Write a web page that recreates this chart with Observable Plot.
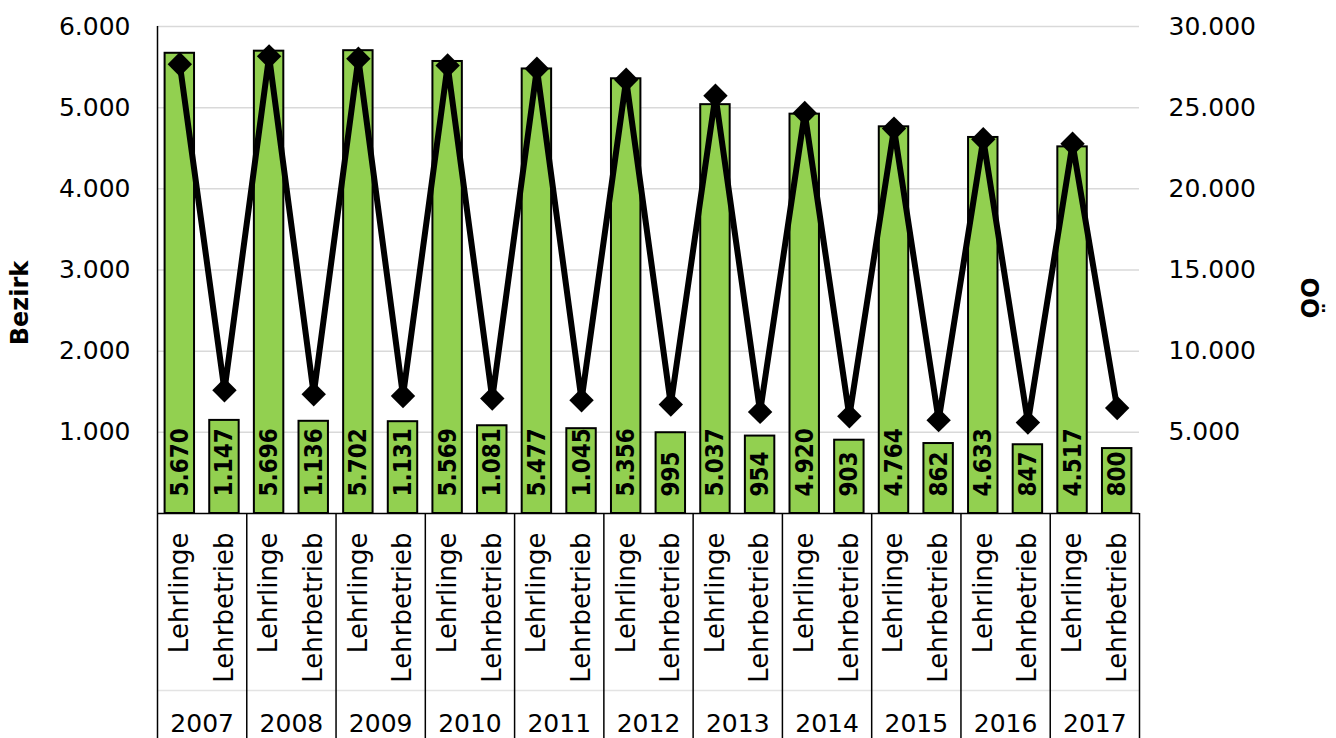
<!DOCTYPE html>
<html>
<head>
<meta charset="utf-8">
<script src="https://cdn.jsdelivr.net/npm/d3@7"></script>
<script src="https://cdn.jsdelivr.net/npm/@observablehq/plot@0.6"></script>
<style>
  html, body { margin: 0; padding: 0; background: #fff; }
  #chart svg { display: block; }
</style>
</head>
<body>
<div id="chart"></div>
<script>
const years = ["2007","2008","2009","2010","2011","2012","2013","2014","2015","2016","2017"];
const types = ["Lehrlinge","Lehrbetrieb"];
const bezirkLehrlinge  = [5670,5696,5702,5569,5477,5356,5037,4920,4764,4633,4517];
const bezirkLehrbetrieb = [1147,1136,1131,1081,1045,995,954,903,862,847,800];
const ooLehrlinge  = [27670,28160,28020,27600,27400,26720,25740,24670,23710,23050,22780];
const ooLehrbetrieb = [7590,7350,7240,7080,6980,6710,6260,5990,5750,5600,6500];
const leftTicks = [1000,2000,3000,4000,5000,6000];
const leftTitle = "Bezirk";
const rightTitle = "OÖ";

const rows = [];
years.forEach((y, i) => {
  rows.push({year: y, type: types[0], key: y + "|" + types[0], bezirk: bezirkLehrlinge[i], oo: ooLehrlinge[i]});
  rows.push({year: y, type: types[1], key: y + "|" + types[1], bezirk: bezirkLehrbetrieb[i], oo: ooLehrbetrieb[i]});
});
const keys = rows.map(d => d.key);
const firstKeys = keys.filter(k => k.endsWith("|" + types[0]));
const lastKey = keys[keys.length - 1];

const fmt = d3.formatLocale({decimal: ",", thousands: ".", grouping: [3], currency: ["", "€"]}).format(",d");
const ratio = 5; // right axis / left axis

const W = 1336, H = 738, mL = 157, mR = 197, mT = 26, mB = 225;
const bw = (W - mL - mR) / keys.length;

const chart = Plot.plot({
  width: W, height: H,
  marginLeft: mL, marginRight: mR, marginTop: mT, marginBottom: mB,
  style: {fontFamily: "'DejaVu Sans', sans-serif", fontSize: "25px", color: "#000", background: "#fff", overflow: "visible"},
  x: {domain: keys, padding: 0, round: false},
  y: {domain: [0, 6000]},
  marks: [
    Plot.gridY(leftTicks, {stroke: "#d9d9d9", strokeOpacity: 1, strokeWidth: 1.5}),
    Plot.barY(rows, {x: "key", y: "bezirk", fill: "#92d050", stroke: "#000", strokeWidth: 2, insetLeft: 7.6, insetRight: 7.6}),
    Plot.text(rows, {x: "key", frameAnchor: "bottom", dx: 8, dy: -17, text: d => fmt(d.bezirk), rotate: -90, textAnchor: "start",
      fontWeight: "bold", fontSize: 24, fill: "#000", fontFamily: "'DejaVu Sans Condensed', 'DejaVu Sans', sans-serif"}),
    Plot.line(rows, {x: "key", y: d => d.oo / ratio, stroke: "#000", strokeWidth: 6, strokeLinejoin: "round"}),
    Plot.dot(rows, {x: "key", y: d => d.oo / ratio, symbol: "diamond2", r: 11, fill: "#000", stroke: null}),
    Plot.ruleY([0], {dy: 177, stroke: "#e3e3e3", strokeWidth: 1.5}),
    Plot.ruleY([0], {stroke: "#000", strokeWidth: 1.5}),
    Plot.ruleX([keys[0]], {dx: -bw / 2, stroke: "#000", strokeWidth: 1.5}),
    Plot.axisY({anchor: "left", ticks: leftTicks, tickFormat: fmt, tickSize: 0, tickPadding: 27, fontSize: 25, label: null}),
    Plot.axisY({anchor: "right", ticks: leftTicks, tickFormat: d => fmt(d * ratio), tickSize: 0, tickPadding: 29, fontSize: 25, label: null}),
    Plot.axisX({ticks: keys, tickFormat: d => d.split("|")[1], tickRotate: -90, tickSize: 0, tickPadding: 19, fontSize: 26, label: null}),
    Plot.axisX({ticks: firstKeys, tickFormat: d => d.split("|")[0], tickSize: 0, tickPadding: 201, dx: bw / 2, fontSize: 25, label: null}),
    Plot.axisX({ticks: firstKeys, tickFormat: () => "", tickSize: 225, dx: -bw / 2, strokeWidth: 1.5, label: null}),
    Plot.axisX({ticks: [lastKey], tickFormat: () => "", tickSize: 225, dx: bw / 2, strokeWidth: 1.5, label: null}),
    Plot.text([leftTitle], {frameAnchor: "left", textAnchor: "middle", dx: -137, dy: 33, rotate: -90, fontWeight: "bold", fontSize: 24, fill: "#000"}),
    Plot.text([rightTitle], {frameAnchor: "right", textAnchor: "middle", dx: 169, dy: 28, rotate: 90, fontWeight: "bold", fontSize: 24, fill: "#000"})
  ]
});
document.getElementById("chart").appendChild(chart);
</script>
</body>
</html>
